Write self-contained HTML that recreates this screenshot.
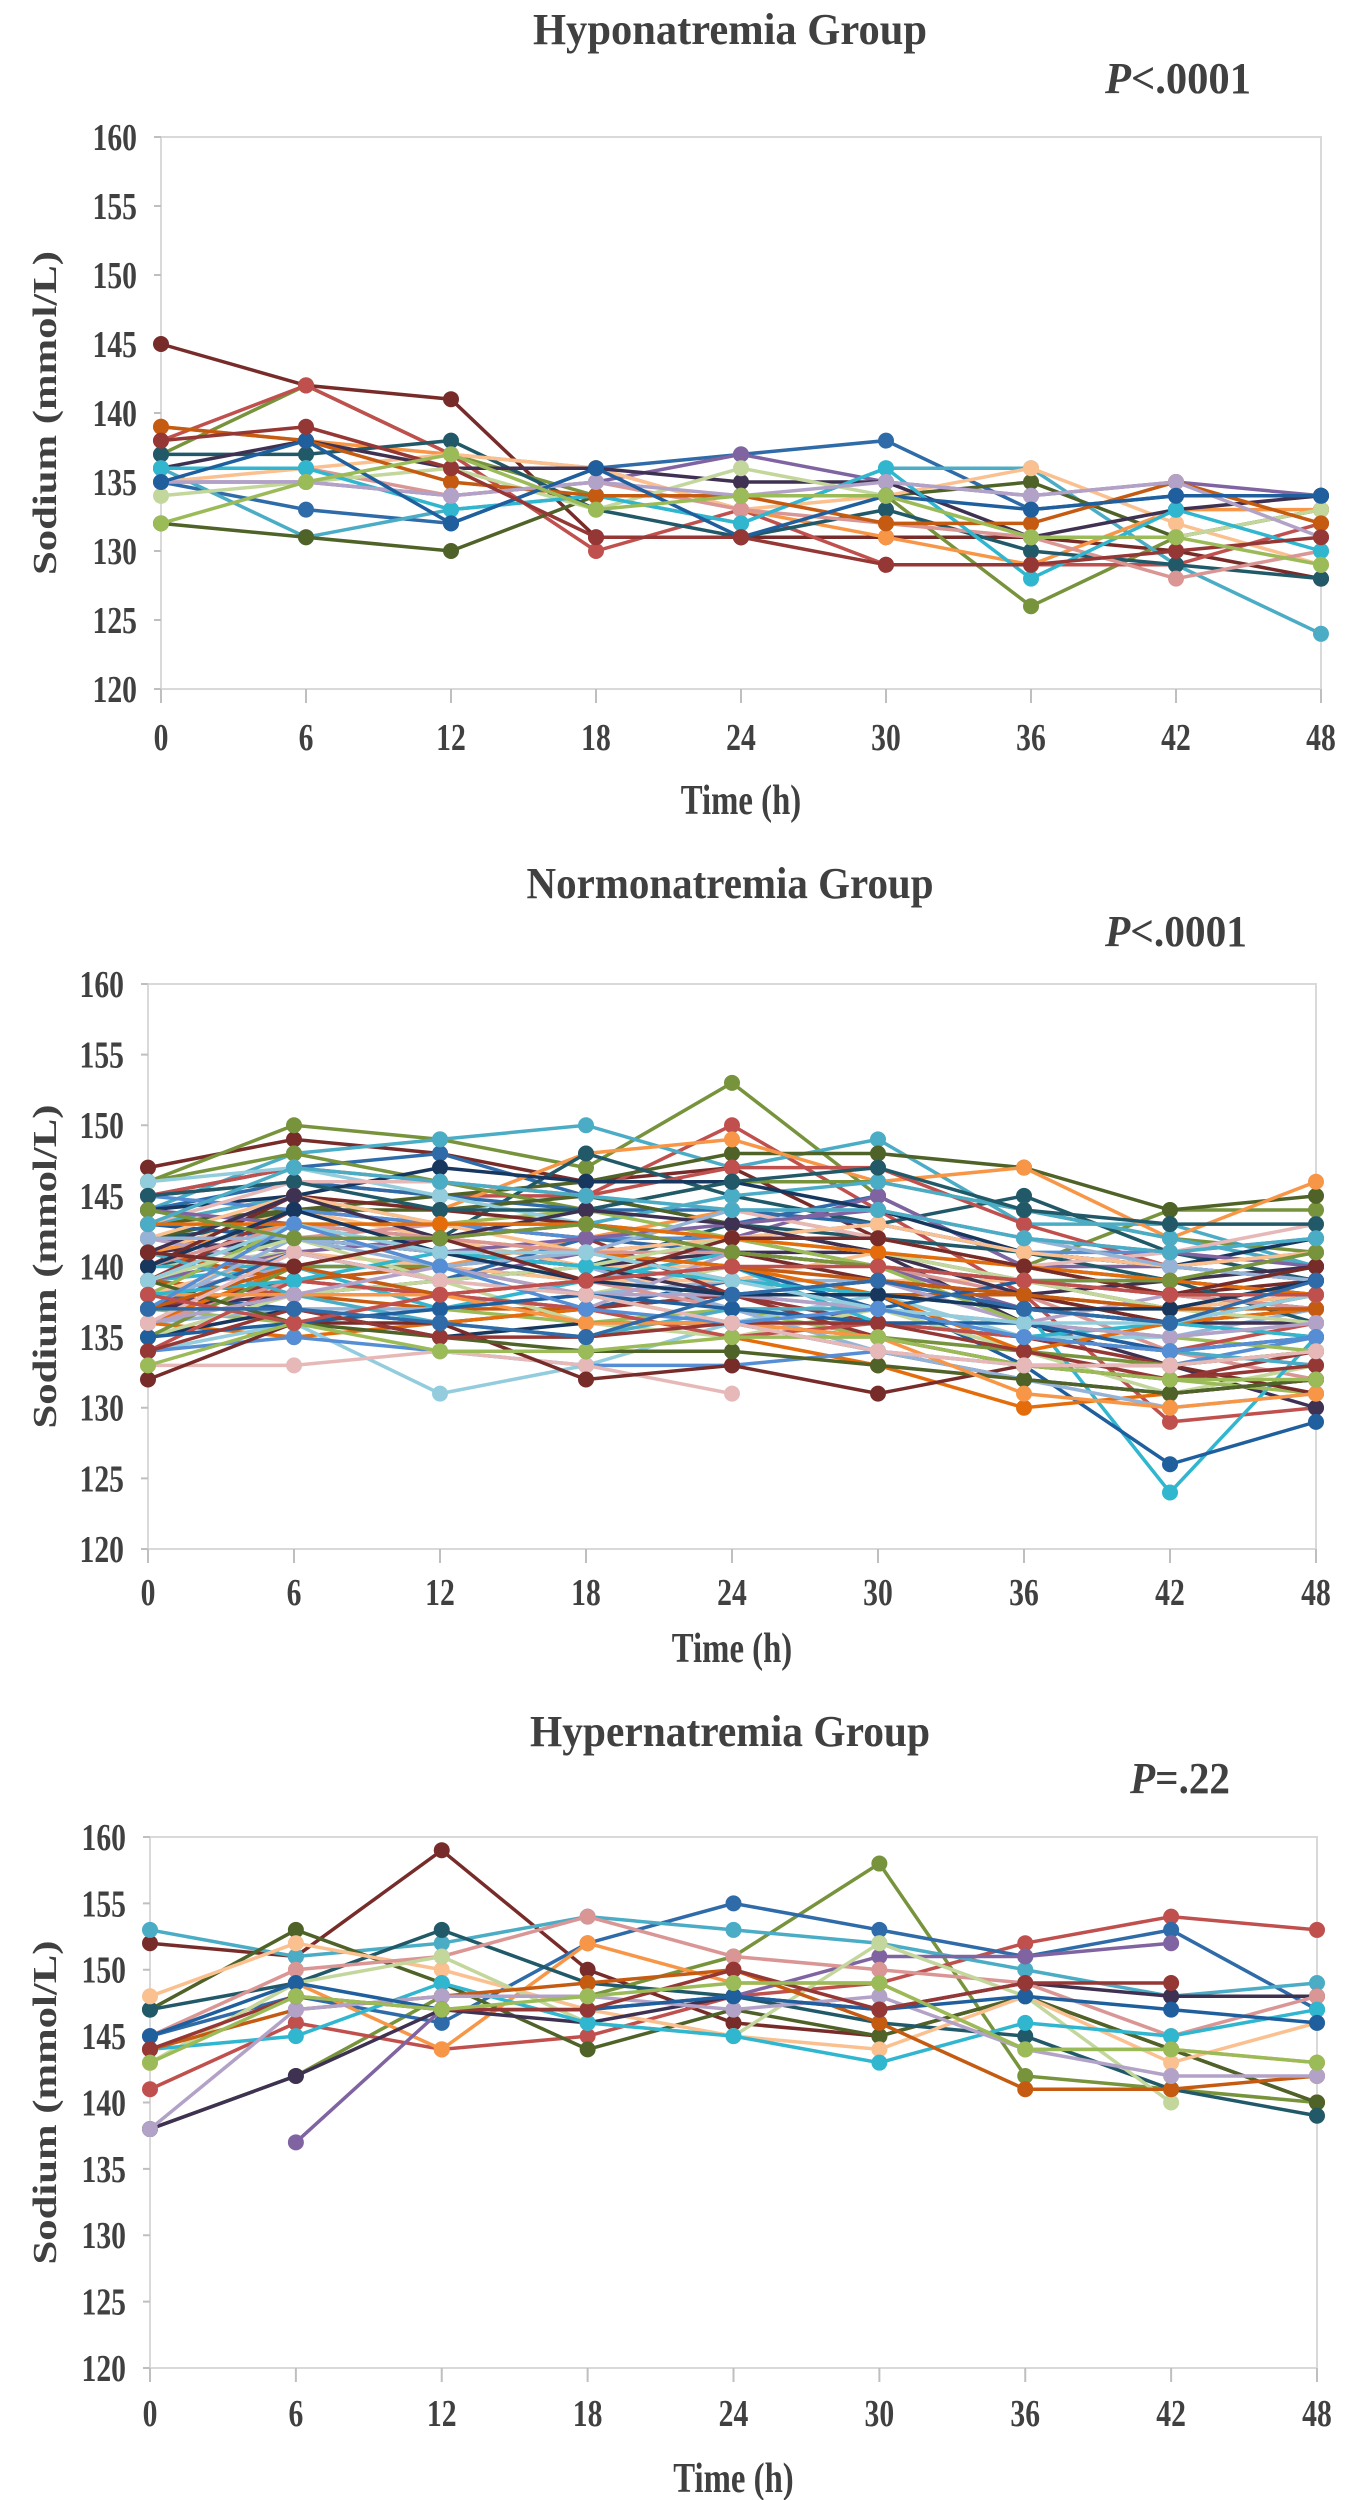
<!DOCTYPE html>
<html><head><meta charset="utf-8"><style>
html,body{margin:0;padding:0;background:#fff;}
svg{display:block;}
text{font-family:"Liberation Serif",serif;fill:#404040;}
</style></head><body>
<svg id="root" width="1348" height="2500" viewBox="0 0 1348 2500" xmlns="http://www.w3.org/2000/svg"></svg>
<script>
const categories = [0,6,12,18,24,30,36,42,48];
const yTicks = [120,125,130,135,140,145,150,155,160];
const hypoSeries = [
[145,142,141,131,131,131,131,130,128],
[137,142,137,134,134,134,126,131,133],
[138,142,137,130,133,129,129,129,132],
[135,133,132,136,137,138,133,134,134],
[136,131,133,134,132,136,136,129,124],
[132,131,130,134,134,134,135,131,133],
[139,138,137,136,133,131,129,133,133],
[137,137,138,133,131,133,130,129,128],
[135,135,134,135,137,135,134,135,134],
[135,136,137,136,133,134,136,132,129],
[136,138,136,136,135,135,131,133,134],
[136,136,134,135,133,132,131,128,130],
[134,135,136,133,136,134,131,131,133],
[136,136,133,134,132,136,128,133,130],
[139,138,135,134,134,132,132,135,132],
[135,135,134,135,134,135,134,135,131],
[135,138,132,136,131,134,133,134,134],
[138,139,136,131,131,129,129,130,131],
[132,135,137,133,134,134,131,131,129]
];
const normoSeries = [
[147,149,148,146,147,142,140,138,139],
[146,150,149,147,153,145,140,144,144],
[145,146,145,145,150,144,138,129,130],
[145,147,148,145,143,145,140,139,138],
[144,148,149,150,147,149,143,143,140],
[143,144,145,146,148,148,147,144,145],
[143,145,144,148,149,146,147,142,146],
[142,143,142,148,145,143,145,141,139],
[142,141,139,141,142,145,140,140,139],
[141,144,142,140,140,139,139,137,136],
[141,142,141,140,141,141,136,133,130],
[140,142,143,142,141,140,138,134,132],
[140,141,139,138,140,137,134,131,133],
[139,140,140,139,141,140,137,124,135],
[139,138,137,137,138,138,138,136,135],
[138,140,137,138,138,137,136,134,133],
[138,137,136,137,139,138,133,126,129],
[137,139,138,137,138,136,135,133,134],
[137,136,137,136,137,135,133,132,131],
[136,137,137,138,139,139,136,135,137],
[136,135,136,137,135,133,130,131,132],
[135,137,135,136,136,134,132,131,132],
[134,136,131,133,136,138,135,135,136],
[134,135,134,133,133,134,133,133,135],
[133,133,134,133,131,null,null,null,null],
[132,136,136,132,133,131,133,133,131],
[146,148,146,144,146,146,144,142,141],
[145,147,146,145,147,147,143,140,141],
[144,146,145,144,144,143,141,140,139],
[143,145,143,143,145,146,144,142,140],
[142,144,144,145,143,141,139,137,138],
[141,143,140,142,144,142,140,138,137],
[140,142,141,140,143,142,141,139,136],
[139,141,142,143,142,140,137,136,137],
[138,141,140,139,139,141,138,137,138],
[137,138,139,140,138,139,137,136,136],
[136,139,138,139,137,136,135,134,135],
[135,138,139,136,135,137,134,133,134],
[140,140,137,139,140,136,135,136,137],
[141,139,140,141,139,138,138,137,139],
[142,140,138,137,141,139,136,138,140],
[143,142,141,141,140,137,139,139,138],
[139,144,143,142,138,135,133,132,134],
[138,143,143,144,142,140,136,135,134],
[137,142,141,140,137,134,132,130,131],
[136,140,142,141,140,138,134,136,137],
[144,145,147,146,146,144,141,140,142],
[146,147,145,143,142,141,140,139,141],
[145,144,143,142,142,143,141,141,142],
[143,146,146,145,144,142,140,141,143],
[140,145,144,143,141,139,138,136,138],
[135,140,140,138,136,135,134,133,134],
[134,139,138,137,135,136,135,134,136],
[137,141,139,142,141,140,139,138,137],
[141,138,136,135,137,137,135,134,133],
[139,136,135,134,134,133,132,131,132],
[138,138,138,136,136,135,131,130,131],
[145,146,144,144,146,147,144,143,143],
[144,143,141,142,143,144,142,141,140],
[142,145,143,141,142,143,141,140,141],
[141,145,142,144,143,141,138,139,140],
[140,143,142,141,141,140,139,138,137],
[139,142,139,140,142,141,139,137,136],
[138,139,141,140,139,138,137,136,135],
[137,140,138,139,140,139,138,137,137],
[136,138,140,138,138,137,136,135,136],
[135,136,137,138,137,136,136,134,135],
[134,137,135,135,136,136,134,132,133],
[133,136,134,134,135,135,133,132,132],
[142,142,140,141,144,144,142,140,139],
[143,143,143,143,142,141,140,139,138],
[140,144,141,139,138,138,137,137,139],
[139,143,141,141,139,137,136,136,138],
[137,143,140,137,136,137,135,134,135],
[136,141,139,138,136,134,133,133,134],
[141,140,142,139,142,142,140,138,140],
[144,142,142,143,141,140,139,139,141],
[138,136,138,139,140,140,139,138,138],
[137,137,136,135,138,139,137,136,139],
[143,147,146,145,144,144,142,141,142]
];
const hyperSeries = [
[152,151,159,150,146,145,148,144,140],
[138,142,148,148,151,158,142,141,140],
[141,146,144,145,148,149,152,154,153],
[145,148,146,152,155,153,151,153,147],
[153,151,152,154,153,152,150,148,149],
[147,153,149,144,147,145,148,144,140],
[143,149,144,152,149,149,144,144,143],
[147,149,153,149,148,146,145,141,139],
[null,137,147,147,148,151,151,152,null],
[148,152,150,147,145,144,148,143,146],
[138,142,147,146,148,147,149,148,148],
[145,150,151,154,151,150,149,145,148],
[143,149,151,146,145,152,148,140,null],
[144,145,149,146,145,143,146,145,147],
[144,147,148,149,150,146,141,141,142],
[138,147,148,148,147,148,144,142,142],
[145,149,147,147,148,147,148,147,146],
[144,148,147,147,150,147,149,149,null],
[143,148,147,148,149,149,144,144,143]
];
const palette = ["#772C2A","#77933C","#C0504D","#2E6BA8","#4BACC6","#4F6228","#F79646","#215968","#8064A2","#FAC090","#3F3151","#D99694","#C3D69B","#31B6CF","#C55A11","#B3A2C7","#1F5F9E","#953735","#9BBB59","#95B3D7","#E46C0A","#17375E","#93CDDD","#558ED5","#E6B9B8"];

const svg = document.getElementById('root');
const NS = 'http://www.w3.org/2000/svg';
function mk(tag, attrs, parent){const e=document.createElementNS(NS,tag);for(const k in attrs)e.setAttribute(k,attrs[k]);parent.appendChild(e);return e;}
const SX = 0.78;

function drawChart(cfg, series, key){
  const g = mk('g',{},svg);
  
  
  const xs = v => cfg.left + (v-0)/(48-0)*(cfg.right-cfg.left);
  const ys = v => cfg.bottom - (v-120)/(160-120)*(cfg.bottom-cfg.top);
  const t = mk('text',{x:730,y:cfg.titleY,'text-anchor':'middle','font-size':44,'font-weight':'bold',textLength:cfg.titleLen,lengthAdjust:'spacingAndGlyphs'},g);
  t.textContent = cfg.title;
  
  
  const p = mk('text',{x:cfg.pX,y:cfg.pY,'font-size':44,'font-weight':'bold',textLength:cfg.pLen,lengthAdjust:'spacingAndGlyphs'},g);
  p.innerHTML = '<tspan font-style="italic">P</tspan>'+cfg.pText;
  
  
  const frame = mk('rect',{x:cfg.left,y:cfg.top,width:cfg.right-cfg.left,height:cfg.bottom-cfg.top,fill:'none',stroke:'#d9d9d9','stroke-width':2},g);
  
  
  yTicks.forEach(v=>{
    mk('line',{x1:cfg.left-7,x2:cfg.left,y1:ys(v),y2:ys(v),stroke:'#bfbfbf','stroke-width':2},g);
    const l = mk('text',{x:(cfg.left-24)/SX,y:ys(v)+13,'text-anchor':'end','font-size':38,'font-weight':'bold',transform:'scale('+SX+',1)'},g);
    l.textContent = v;
    
    
  });
  categories.forEach(c=>{
    mk('line',{x1:xs(c),x2:xs(c),y1:cfg.bottom,y2:cfg.bottom+14,stroke:'#bfbfbf','stroke-width':2},g);
    const l = mk('text',{x:xs(c)/SX,y:cfg.tickY+2,'text-anchor':'middle','font-size':38,'font-weight':'bold',transform:'scale('+SX+',1)'},g);
    l.textContent = c;
    
    
  });
  const xtX = (cfg.left+cfg.right)/2;
  const xt = mk('text',{x:xtX/SX,y:cfg.timeY+2,'text-anchor':'middle','font-size':42,'font-weight':'bold',transform:'scale('+SX+',1)'},g);
  xt.textContent = 'Time (h)';
  
  
  const cy = (cfg.top+cfg.bottom)/2;
  const yt = mk('text',{x:0,y:0,'text-anchor':'middle','font-size':34,'font-weight':'bold',transform:'translate(56,'+cy+') rotate(-90)',textLength:324,lengthAdjust:'spacingAndGlyphs'},g);
  yt.textContent = 'Sodium (mmol/L)';
  
  
  series.forEach((s,i)=>{
    const col = palette[i % palette.length];
    const sg = mk('g',{},g);
    
    
    let d=''; let pen=false;
    s.forEach((v,j)=>{ if(v==null){pen=false;return;} d += (pen?'L':'M')+xs(categories[j])+','+ys(v)+' '; pen=true; });
    mk('path',{d:d,fill:'none',stroke:col,'stroke-width':3.5},sg);
    s.forEach((v,j)=>{ if(v==null) return;
      const c = mk('circle',{cx:xs(categories[j]),cy:ys(v),r:8,fill:col},sg);
      
      
    });
  });
}
drawChart({title:'Hyponatremia Group',titleLen:394,titleY:44,pX:1105,pY:93,pLen:146,pText:'&lt;.0001',top:137,bottom:689,left:161,right:1321,tickY:748,timeY:812},hypoSeries,'hyponatremia');
drawChart({title:'Normonatremia Group',titleLen:407,titleY:898,pX:1105,pY:946,pLen:142,pText:'&lt;.0001',top:984,bottom:1549,left:148,right:1316,tickY:1603,timeY:1660},normoSeries,'normonatremia');
drawChart({title:'Hypernatremia Group',titleLen:400,titleY:1746,pX:1130,pY:1793,pLen:100,pText:'=.22',top:1837,bottom:2368,left:150,right:1317,tickY:2424,timeY:2490},hyperSeries,'hypernatremia');
</script>
</body></html>
